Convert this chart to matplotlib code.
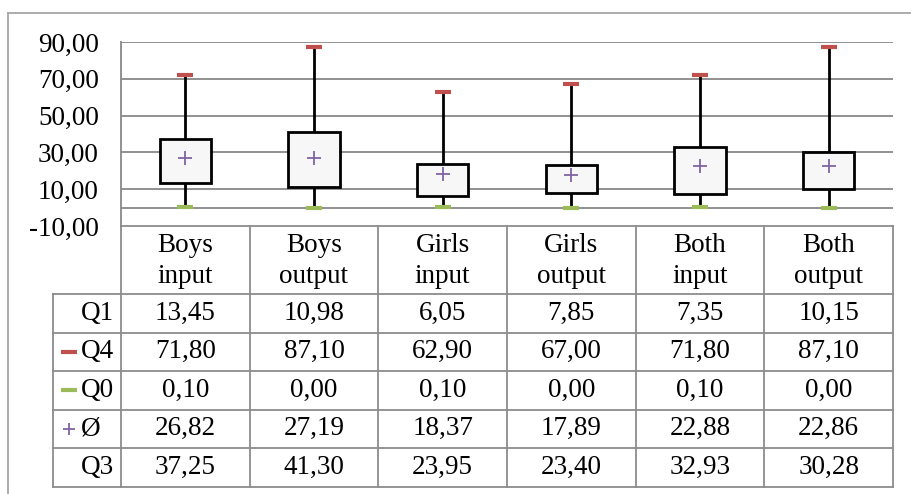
import numpy as np
import matplotlib.pyplot as plt

# === 数据 ===
categories = ["Boys\ninput", "Boys\noutput", "Girls\ninput", "Girls\noutput", "Both\ninput", "Both\noutput"]
q1 = [13.45, 10.98, 6.05, 7.85, 7.35, 10.15]
q4 = [71.80, 87.10, 62.90, 67.00, 71.80, 87.10]
q0 = [0.10, 0.00, 0.10, 0.00, 0.10, 0.00]
mean = [26.82, 27.19, 18.37, 17.89, 22.88, 22.86]
q3 = [37.25, 41.30, 23.95, 23.40, 32.93, 30.28]
row_labels = ["Q1", "Q4", "Q0", "Ø", "Q3"]
yticks = [-10, 10, 30, 50, 70, 90]

# === 样式 ===
W, H = 912, 494
RED = '#C0504D'
GREEN = '#9BBB59'
PURPLE = '#8064A2'
GRID = '#888888'
FONT = 'Liberation Serif'
FS = 19.5

plt.rcParams['font.family'] = [FONT, 'DejaVu Serif']

fig = plt.figure(figsize=(W / 100, H / 100), dpi=100)

# 绘图区 (像素)
px0, px1, py_top, py_bot = 121, 893, 42, 226

# 表格/边框层, 像素坐标
tab = fig.add_axes([0, 0, 1, 1])
tab.set_xlim(0, W)
tab.set_ylim(H, 0)
tab.axis('off')

ax = fig.add_axes([px0 / W, (H - py_bot) / H, (px1 - px0) / W, (py_bot - py_top) / H])
ax.patch.set_alpha(0)

x = np.arange(1, len(categories) + 1)
ax.set_xlim(0.5, len(categories) + 0.5)
ax.set_ylim(-10, 90)

for s in ['top', 'right', 'bottom']:
    ax.spines[s].set_visible(False)
ax.spines['left'].set_color(GRID)
ax.spines['left'].set_linewidth(1.3)

ax.set_yticks(yticks)
ax.set_yticklabels([f"{v:.2f}".replace('.', ',') for v in yticks], fontsize=FS)
ax.tick_params(axis='y', length=0, pad=16)
ax.set_xticks([])
for v in yticks[1:]:
    ax.axhline(v, color=GRID, lw=1.3, zorder=0)
ax.axhline(0, color=GRID, lw=1.3, zorder=0)

q1a, q3a, q0a, q4a = map(np.array, (q1, q3, q0, q4))
ax.vlines(x, q0a, q1a, color='black', lw=2, zorder=2)
ax.vlines(x, q3a, q4a, color='black', lw=2, zorder=2)
ax.bar(x, q3a - q1a, bottom=q1a, width=0.4, facecolor='#F7F7F7',
       edgecolor='black', linewidth=2, zorder=3)
ax.plot(x, q4, ls='none', marker='_', ms=11, mew=3, color=RED, zorder=4, clip_on=False)
ax.plot(x, q0, ls='none', marker='_', ms=11, mew=3, color=GREEN, zorder=4, clip_on=False)
ax.plot(x, mean, ls='none', marker='+', ms=10, mew=1.3, color=PURPLE, zorder=4)

# === 外框 ===
tab.plot([8, 8], [13, H + 5], color='#A6A6A6', lw=1.3)
tab.plot([8, W + 5], [13, 13], color='#A6A6A6', lw=1.3)

# === 数据表 ===
ncol = len(categories)
cw = (px1 - px0) / ncol
col_edges = [px0 + i * cw for i in range(ncol + 1)]
lab_x0 = 53
head_bot = 294
rh = 38.5
row_edges = [head_bot + i * rh for i in range(len(row_labels) + 1)]
tcol = '#8C8C8C'

tab.plot([px0, px1], [py_bot, py_bot], color=tcol, lw=1.3)
for ye in row_edges:
    tab.plot([lab_x0, px1], [ye, ye], color=tcol, lw=1.3)
for xe in col_edges:
    tab.plot([xe, xe], [py_bot, row_edges[-1]], color=tcol, lw=1.3)
tab.plot([lab_x0, lab_x0], [head_bot, row_edges[-1]], color=tcol, lw=1.3)

for i, c in enumerate(categories):
    cx = (col_edges[i] + col_edges[i + 1]) / 2
    tab.text(cx, (py_bot + head_bot) / 2 + 1, c, ha='center', va='center',
             fontsize=FS, linespacing=1.3, multialignment='center')

rows = [q1, q4, q0, mean, q3]
keys = [None, (RED, '_'), (GREEN, '_'), (PURPLE, '+'), None]
for r, (lab, vals, key) in enumerate(zip(row_labels, rows, keys)):
    cy = (row_edges[r] + row_edges[r + 1]) / 2
    tab.text(81, cy, lab, ha='left', va='center', fontsize=FS)
    if key is not None:
        if key[1] == '_':
            tab.plot([69.5], [cy], marker='_', ms=11, mew=3, color=key[0])
        else:
            tab.plot([69], [cy], marker='+', ms=9, mew=1.3, color=key[0])
    for i, v in enumerate(vals):
        cx = (col_edges[i] + col_edges[i + 1]) / 2
        tab.text(cx, cy, f"{v:.2f}".replace('.', ','), ha='center', va='center', fontsize=FS)

fig.savefig('out.png', dpi=100)
